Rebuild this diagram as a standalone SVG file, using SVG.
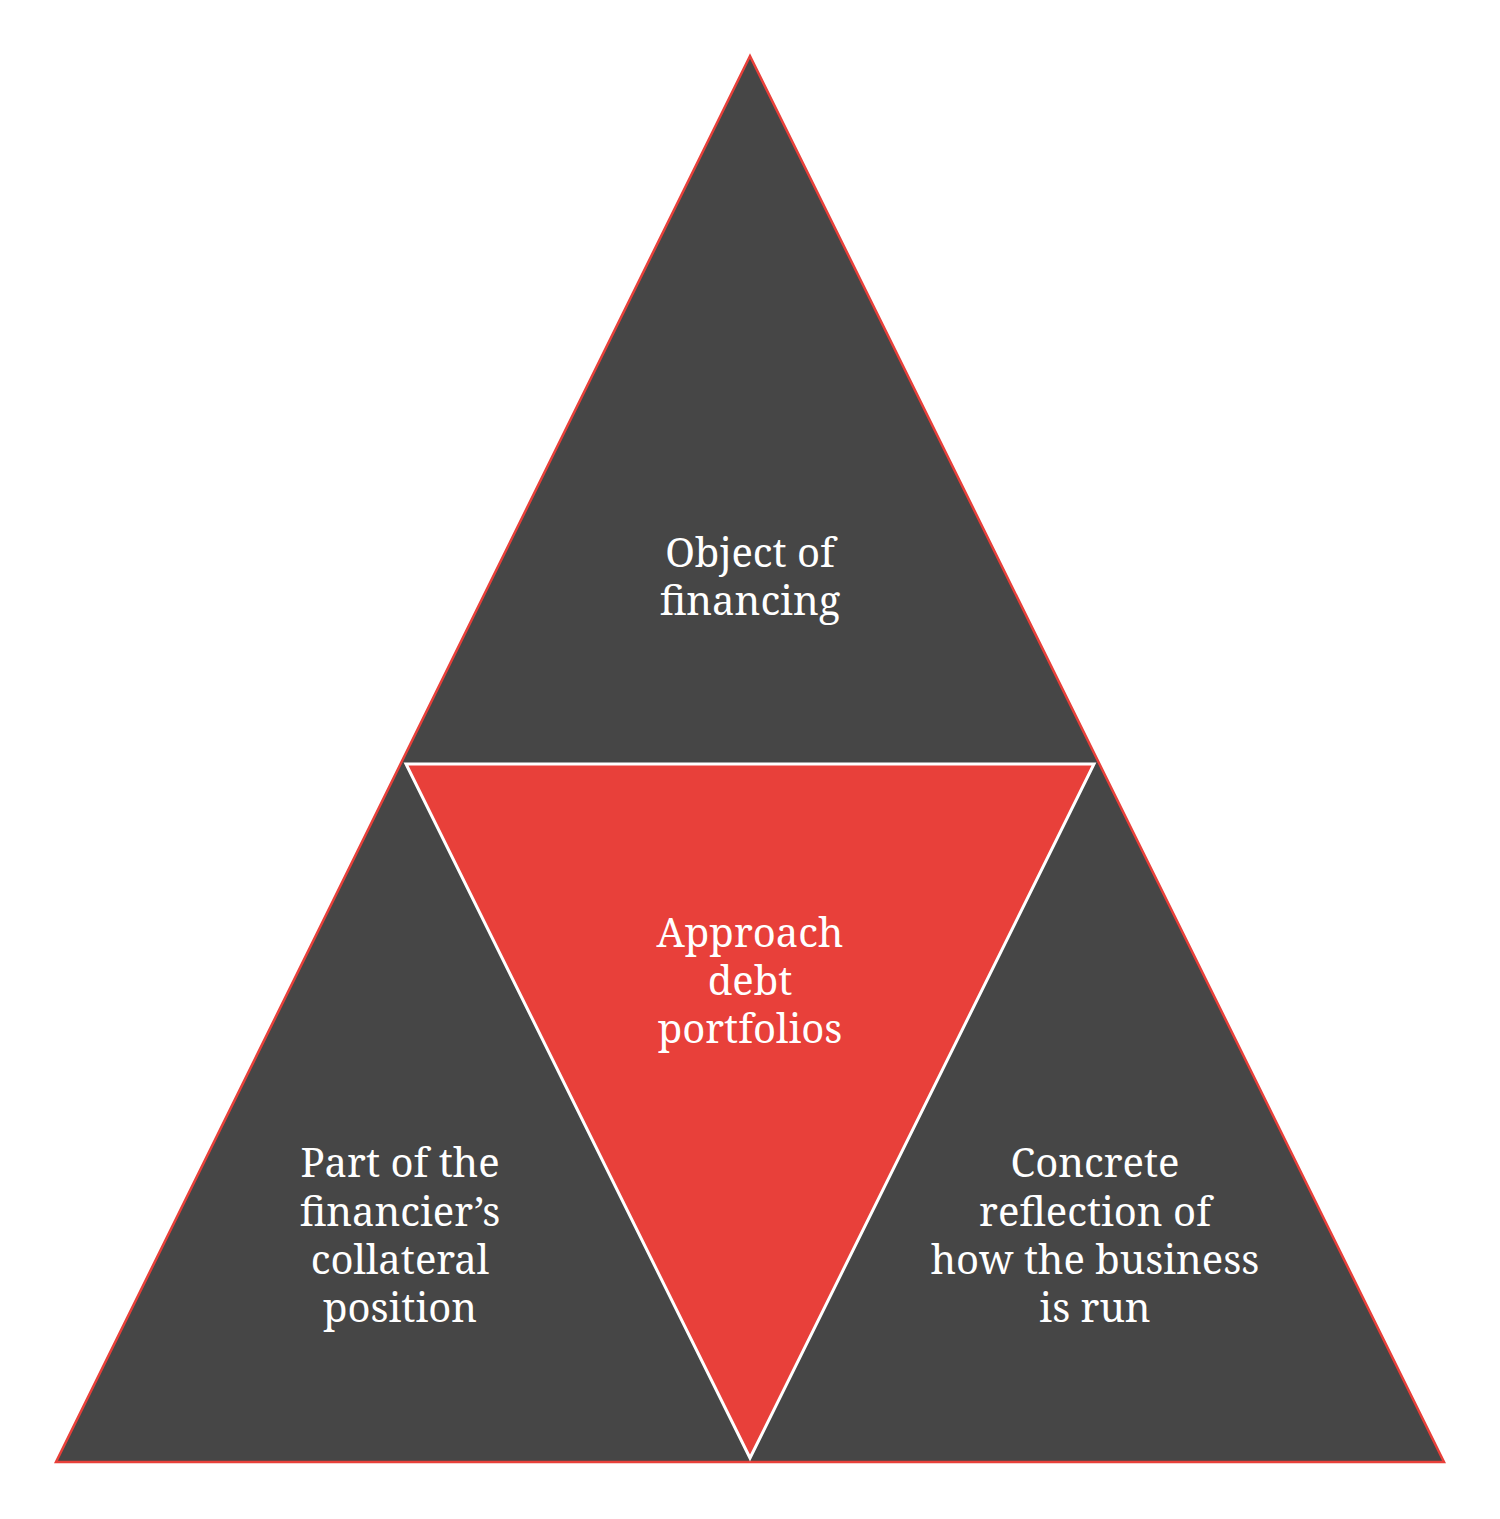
<svg xmlns="http://www.w3.org/2000/svg" width="1500" height="1519" viewBox="0 0 1500 1519">
<style>
.dark{fill:#464646;stroke:#e8403a;stroke-width:2.5;stroke-linejoin:miter}
.mid{fill:#e8403a;stroke:#ffffff;stroke-width:3}
.t{font-family:"Noto Serif","DejaVu Serif",serif;font-size:40px;fill:#ffffff;text-anchor:middle}
</style>
<rect width="1500" height="1519" fill="#ffffff"/>
<g id="outer">
<polygon class="dark" points="750,56 1444,1462 56,1462"/>
</g>
<g id="center">
<polygon class="mid" points="406,764 1094,764 750,1458"/>
<text class="t" x="750"><tspan x="750" y="947">Approach</tspan><tspan x="750" y="995">debt</tspan><tspan x="750" y="1043">portfolios</tspan></text>
</g>
<g id="top">
<text class="t"><tspan x="750" y="567">Object of</tspan><tspan x="750" y="615">financing</tspan></text>
</g>
<g id="left">
<text class="t"><tspan x="400" y="1177">Part of the</tspan><tspan x="400" y="1226">financier’s</tspan><tspan x="400" y="1274">collateral</tspan><tspan x="400" y="1322">position</tspan></text>
</g>
<g id="right">
<text class="t"><tspan x="1095" y="1177">Concrete</tspan><tspan x="1095" y="1226">reflection of</tspan><tspan x="1095" y="1274">how the business</tspan><tspan x="1095" y="1322">is run</tspan></text>
</g>
<g id="connectors"></g>
</svg>
